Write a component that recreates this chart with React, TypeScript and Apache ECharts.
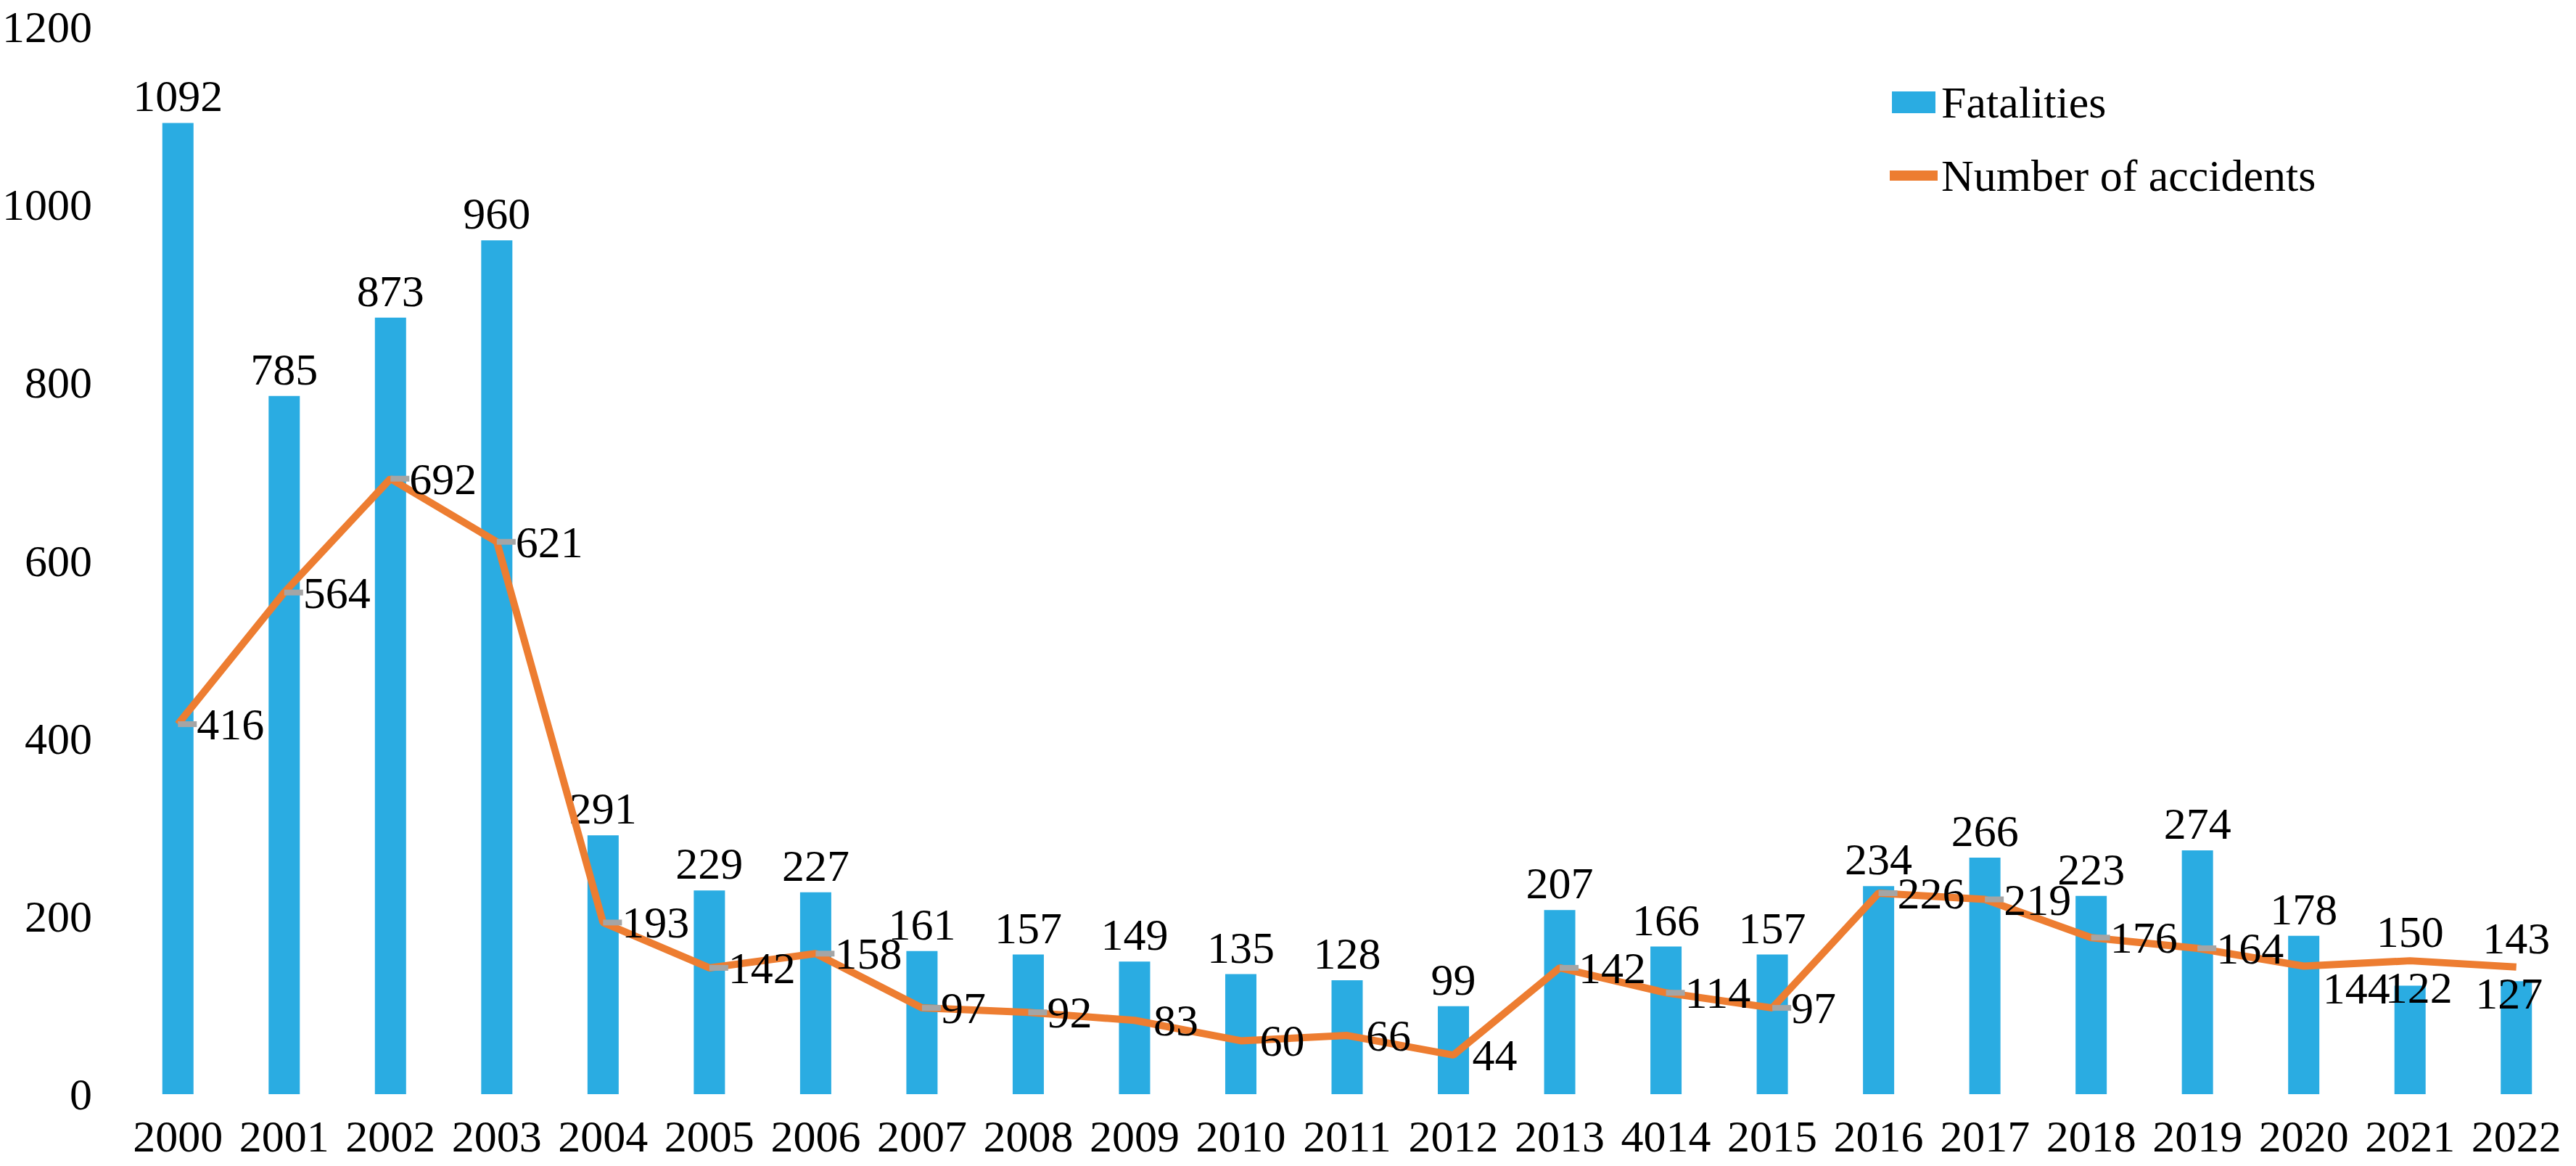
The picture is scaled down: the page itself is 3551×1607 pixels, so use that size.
import React, { useEffect, useRef } from "react";
import * as echarts from "echarts";

const categories = [
  "2000", "2001", "2002", "2003", "2004", "2005", "2006", "2007", "2008", "2009",
  "2010", "2011", "2012", "2013", "4014", "2015", "2016", "2017", "2018", "2019",
  "2020", "2021", "2022",
];
const fatalities = [1092, 785, 873, 960, 291, 229, 227, 161, 157, 149, 135, 128, 99, 207, 166, 157, 234, 266, 223, 274, 178, 122, 127];
const accidents = [416, 564, 692, 621, 193, 142, 158, 97, 92, 83, 60, 66, 44, 142, 114, 97, 226, 219, 176, 164, 144, 150, 143];
const yTicks = [0, 200, 400, 600, 800, 1000, 1200];
// points of the accidents line that show no grey marker in the reference
const noMarker = ["2009", "2010", "2011", "2012", "2020", "2021", "2022"];

const FONT = "Liberation Serif";
const FS = 62;

export default function App() {
  const ref = useRef<HTMLDivElement>(null);
  useEffect(() => {
    document.body.style.margin = "0";
    const chart = echarts.init(ref.current!, null, { renderer: "svg" });

    const barData = fatalities.map((v, i) => {
      if (i === 21) return { value: v, label: { offset: [12, 40] } };
      if (i === 22) return { value: v, label: { offset: [-10, 54] } };
      return v;
    });
    const lineData = accidents.map((v, i) => {
      const item: any = { value: v };
      if (noMarker.includes(categories[i])) item.itemStyle = { color: "rgba(0,0,0,0)" };
      if (i === 20) item.label = { offset: [0, 31] };
      if (i === 21 || i === 22) item.label = { position: "top", distance: 5, offset: [-13, 0] };
      return item;
    });

    chart.setOption({
      animation: false,
      backgroundColor: "#ffffff",
      grid: { left: 168, right: 9, top: 37, bottom: 99, containLabel: false },
      legend: {
        orient: "vertical",
        left: 2600,
        top: 101,
        itemWidth: 66,
        itemHeight: 30,
        itemGap: 31,
        textStyle: { fontFamily: FONT, fontSize: 62, color: "#000", lineHeight: 70 },
        data: [
          { name: "Fatalities", icon: "path://M3,0 L63,0 L63,30 L3,30 Z", itemStyle: { color: "#2AACE2" } },
          {
            name: "Number of accidents",
            icon: "path://M0,8 L66,8 L66,22 L0,22 Z",
            itemStyle: { color: "#ED7D31" },
          },
        ],
      },
      xAxis: {
        type: "category",
        data: categories,
        axisLine: { show: false },
        axisTick: { show: false },
        axisLabel: { fontFamily: FONT, fontSize: FS, lineHeight: 60, color: "#000", margin: 28, interval: 0 },
      },
      yAxis: {
        type: "value",
        min: yTicks[0],
        max: yTicks[yTicks.length - 1],
        interval: 200,
        splitLine: { show: false },
        axisLine: { show: false },
        axisTick: { show: false },
        axisLabel: {
          fontFamily: FONT,
          fontSize: FS,
          lineHeight: 60,
          color: "#000",
          margin: 45,
          formatter: (v: number) => String(v),
        },
      },
      series: [
        {
          name: "Fatalities",
          type: "bar",
          data: barData,
          barWidth: 43,
          itemStyle: { color: "#2AACE2" },
          label: {
            show: true,
            position: "top",
            distance: 6,
            fontFamily: FONT,
            fontSize: FS,
            color: "#000",
          },
        },
        {
          name: "Number of accidents",
          type: "line",
          data: lineData,
          symbol: "rect",
          symbolSize: [26, 8],
          symbolOffset: [13, 0],
          itemStyle: { color: "#A5A5A5" },
          lineStyle: { color: "#ED7D31", width: 10 },
          z: 3,
          label: {
            show: true,
            position: "right",
            distance: 0,
            fontFamily: FONT,
            fontSize: FS,
            color: "#000",
          },
        },
      ],
    });
    return () => chart.dispose();
  }, []);
  return (
    <div
      ref={ref}
      style={{ position: "absolute", left: 0, top: 0, width: 3551, height: 1607, overflow: "hidden" }}
    />
  );
}
